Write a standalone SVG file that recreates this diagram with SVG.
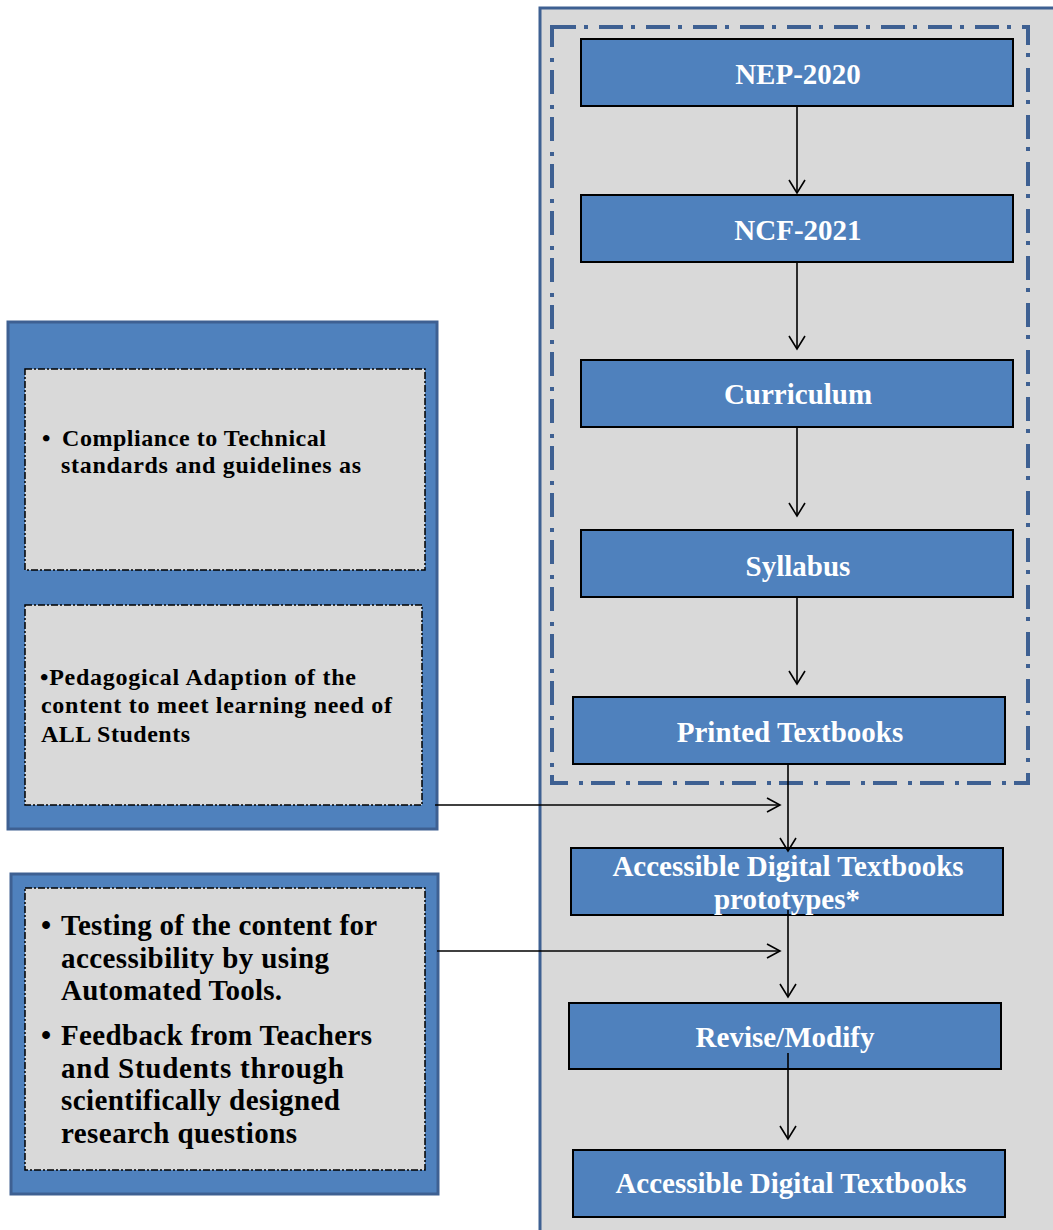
<svg xmlns="http://www.w3.org/2000/svg" width="1053" height="1230" viewBox="0 0 1053 1230">
<style>
.panel{fill:#D9D9D9;stroke:#3E6092;stroke-width:3}
.group{fill:none;stroke:#3E6092;stroke-width:4;stroke-dasharray:24 8 4 11}
.box{fill:#4F81BD;stroke:#000;stroke-width:2}
.outer{fill:#4F81BD;stroke:#3E6092;stroke-width:3}
.inner{fill:#D9D9D9;stroke:#000;stroke-width:1.5;stroke-dasharray:7 2 2 2}
.wt{font-family:"Liberation Serif","Times New Roman",serif;font-weight:bold;font-size:29px;fill:#fff;text-anchor:middle}
.bt{font-family:"Liberation Serif","Times New Roman",serif;font-weight:bold;fill:#000}
.s24{font-size:24px}
.s29{font-size:29px}
.conn line{stroke:#000;stroke-width:1.6}
.conn path{fill:none;stroke:#000;stroke-width:1.6}
</style>
<rect width="1053" height="1230" fill="#fff"/>
<g id="right-panel">
<rect class="panel" x="540" y="8" width="520" height="1235"/>
<rect class="group" x="552" y="27" width="476" height="756"/>
</g>
<g id="left-panel-1">
<rect class="outer" x="8" y="322" width="429" height="507"/>
<rect class="inner" x="25" y="369" width="400" height="201"/>
<text class="bt s24" x="42" y="446">•</text>
<text class="bt s24" x="62" y="446" textLength="264" lengthAdjust="spacing">Compliance to Technical</text>
<text class="bt s24" x="61" y="473" textLength="300" lengthAdjust="spacing">standards and guidelines as</text>
<rect class="inner" x="25" y="605" width="397" height="200"/>
<text class="bt s24" x="40" y="685" textLength="316" lengthAdjust="spacing">•Pedagogical Adaption of the</text>
<text class="bt s24" x="41" y="713" textLength="351" lengthAdjust="spacing">content to meet learning need of</text>
<text class="bt s24" x="41" y="742" textLength="149" lengthAdjust="spacing">ALL Students</text>
</g>
<g id="left-panel-2">
<rect class="outer" x="11" y="874" width="427" height="320"/>
<rect class="inner" x="25" y="888" width="400" height="282"/>
<text class="bt s29" x="41" y="935">•</text>
<text class="bt s29" x="61" y="935" textLength="316" lengthAdjust="spacing">Testing of the content for</text>
<text class="bt s29" x="61" y="968" textLength="268" lengthAdjust="spacing">accessibility by using</text>
<text class="bt s29" x="61" y="1000" textLength="221" lengthAdjust="spacing">Automated Tools.</text>
<text class="bt s29" x="41" y="1045">•</text>
<text class="bt s29" x="61" y="1045" textLength="311" lengthAdjust="spacing">Feedback from Teachers</text>
<text class="bt s29" x="61" y="1078" textLength="283" lengthAdjust="spacing">and Students  through</text>
<text class="bt s29" x="61" y="1110" textLength="279" lengthAdjust="spacing">scientifically designed</text>
<text class="bt s29" x="61" y="1143" textLength="236" lengthAdjust="spacing">research  questions</text>
</g>
<g id="nep2020"><rect class="box" x="581" y="39" width="432" height="67"/><text class="wt" x="798" y="84">NEP-2020</text></g>
<g id="ncf2021"><rect class="box" x="581" y="195" width="432" height="67"/><text class="wt" x="798" y="240">NCF-2021</text></g>
<g id="curriculum"><rect class="box" x="581" y="360" width="432" height="67"/><text class="wt" x="798" y="404">Curriculum</text></g>
<g id="syllabus"><rect class="box" x="581" y="530" width="432" height="67"/><text class="wt" x="798" y="576">Syllabus</text></g>
<g id="printed"><rect class="box" x="573" y="697" width="432" height="67"/><text class="wt" x="790" y="742">Printed Textbooks</text></g>
<g id="prototypes"><rect class="box" x="571" y="848" width="432" height="67"/><text class="wt" x="788" y="876">Accessible Digital Textbooks</text><text class="wt" x="787" y="909">prototypes*</text></g>
<g id="revise"><rect class="box" x="569" y="1003" width="432" height="66"/><text class="wt" x="785" y="1047">Revise/Modify</text></g>
<g id="final"><rect class="box" x="573" y="1150" width="432" height="67"/><text class="wt" x="791" y="1193">Accessible Digital Textbooks</text></g>
<g id="connectors" class="conn">
<line x1="797" y1="106" x2="797" y2="193"/><path d="M789 180 L797 193 L805 180"/>
<line x1="797" y1="262" x2="797" y2="349"/><path d="M789 336 L797 349 L805 336"/>
<line x1="797" y1="427" x2="797" y2="516"/><path d="M789 503 L797 516 L805 503"/>
<line x1="797" y1="597" x2="797" y2="684"/><path d="M789 671 L797 684 L805 671"/>
<line x1="788" y1="764" x2="788" y2="851"/><path d="M780 838 L788 851 L796 838"/>
<line x1="788" y1="910" x2="788" y2="997"/><path d="M780 984 L788 997 L796 984"/>
<line x1="788" y1="1053" x2="788" y2="1139"/><path d="M780 1126 L788 1139 L796 1126"/>
<line x1="435" y1="805" x2="780" y2="805"/><path d="M767 798 L780 805 L767 812"/>
<line x1="437" y1="951" x2="780" y2="951"/><path d="M767 944 L780 951 L767 958"/>
</g>
</svg>
